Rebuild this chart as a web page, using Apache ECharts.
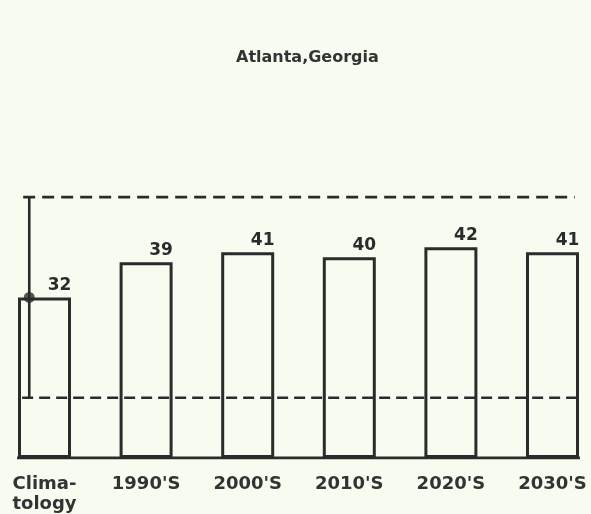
<!DOCTYPE html>
<html>
<head>
<meta charset="utf-8">
<script src="https://cdn.jsdelivr.net/npm/echarts@6/dist/echarts.min.js"></script>
<style>
  html, body { margin: 0; padding: 0; background: #f7fcf0; }
</style>
</head>
<body>
<div id="chart" style="width: 591px; height: 514px"></div>
<script>
const categories = ["Clima-\ntology", "1990'S", "2000'S", "2010'S", "2020'S", "2030'S"];
const values = [32, 39, 41, 40, 42, 41];
const climMean = 32;
const climLow = 12;
const climHigh = 52;

const ink = "#2b2b2b";
const font = "DejaVu Sans";

// bars sit on positions 0..5 of a value x axis
const positions = categories.map((c, i) => i);
const barData = values.map((v, i) => [positions[i], v]);

let chart = echarts.init(document.getElementById("chart"));

const options = {
  backgroundColor: "#f7fcf0",
  animation: false,
  title: {
    text: "Atlanta,Georgia",
    left: 231,
    top: 45,
    textStyle: { fontFamily: font, fontSize: 16, fontWeight: "bold", color: "#333" },
  },
  grid: { left: 0, right: 0, top: 157, bottom: 55 },
  xAxis: {
    type: "value",
    min: -0.438,
    max: 5.379,
    axisLine: { show: false },
    axisTick: { show: false },
    splitLine: { show: false },
    axisLabel: {
      customValues: positions,
      formatter: (v) => categories[Math.round(v)],
      showMinLabel: true,
      showMaxLabel: true,
      margin: 16,
      fontFamily: font,
      fontSize: 18,
      fontWeight: "bold",
      lineHeight: 20,
      color: "#333",
    },
  },
  yAxis: {
    type: "value",
    min: 0,
    max: 60,
    show: false,
    splitLine: { show: false },
  },
  series: [
    {
      type: "bar",
      data: barData,
      barWidth: 53,
      itemStyle: { color: "#f7fcf0", borderColor: ink, borderWidth: 3 },
      label: {
        show: true,
        position: "top",
        distance: 3,
        offset: [15, 0],
        fontFamily: font,
        fontSize: 17,
        fontWeight: "bold",
        color: ink,
      },
    },
    {
      // baseline, bar edge to bar edge
      type: "line",
      data: [[-0.27, 0], [5.27, 0]],
      showSymbol: false,
      lineStyle: { color: ink, width: 3 },
      z: 5,
    },
    {
      type: "line",
      data: [[-0.21, climHigh], [5.22, climHigh]],
      showSymbol: false,
      lineStyle: { color: ink, width: 2.6, type: [12, 7] },
    },
    {
      type: "line",
      data: [[-0.22, climLow], [5.24, climLow]],
      showSymbol: false,
      lineStyle: { color: ink, width: 2.6, type: [11, 6] },
    },
    {
      // climatology range
      type: "line",
      data: [[-0.15, climLow], [-0.15, climHigh]],
      showSymbol: false,
      lineStyle: { color: ink, width: 2.6 },
      z: 4,
    },
    {
      type: "scatter",
      data: [[-0.15, climMean]],
      symbol: "circle",
      symbolSize: 11,
      itemStyle: { color: ink },
      z: 6,
    },
  ],
};

chart.setOption(options);
</script>
</body>
</html>
